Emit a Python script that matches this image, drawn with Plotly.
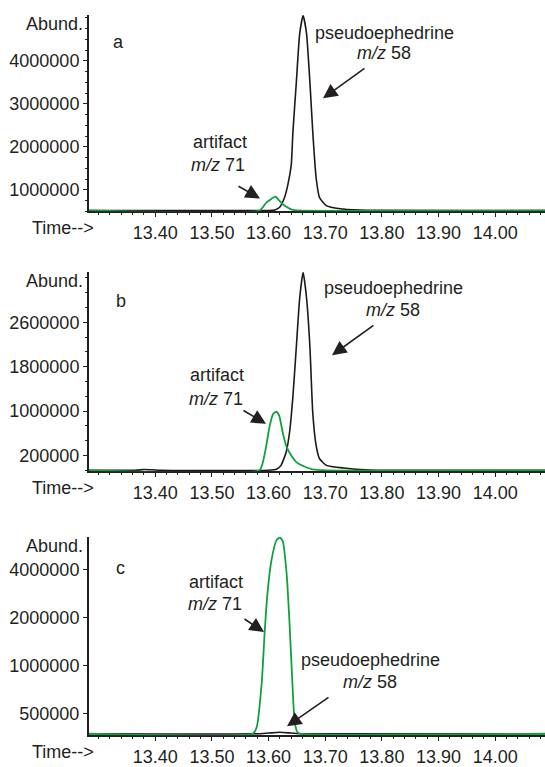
import plotly.graph_objects as go

# ---------------- data ----------------
# Panel a
a_time_black = [13.283, 13.600, 13.611, 13.619, 13.628, 13.634, 13.640, 13.643, 13.649, 13.655, 13.661,
                13.667, 13.673, 13.678, 13.684, 13.690, 13.702, 13.726, 13.761, 13.800, 14.088]
a_abund_black = [519000, 519000, 530000, 588000, 817000, 1115000, 1573000, 2351000, 3496000, 4641000, 5053000,
                 4641000, 3496000, 2351000, 1275000, 817000, 634000, 560000, 530000, 522000, 519000]
a_time_green = [13.283, 13.584, 13.596, 13.612, 13.619, 13.628, 13.641, 13.650, 14.088]
a_abund_green = [519000, 519000, 703000, 840000, 748000, 634000, 542000, 519000, 519000]
a_ticks = [1000000, 2000000, 3000000, 4000000]

# Panel b
b_time_black = [13.283, 13.365, 13.380, 13.395, 13.410, 13.600, 13.614, 13.622, 13.631, 13.637, 13.643, 13.649,
                13.655, 13.661, 13.667, 13.673, 13.678, 13.684, 13.690, 13.702, 13.732, 13.779, 14.088]
b_abund_black = [-67000, -67000, -52000, -58000, -67000, -67000, -49000, 22000, 259000, 614000, 1267000, 2156000,
                 3044000, 3500000, 3044000, 2156000, 970000, 378000, 141000, 22000, -26000, -61000, -67000]
b_time_green = [13.283, 13.584, 13.590, 13.596, 13.602, 13.608, 13.614, 13.619, 13.625, 13.631, 13.640,
                13.649, 13.661, 13.678, 13.702, 14.088]
b_abund_green = [-67000, -67000, 81000, 378000, 733000, 947000, 988000, 911000, 614000, 378000, 198000,
                 81000, 10000, -49000, -67000, -67000]
b_ticks = [200000, 1000000, 1800000, 2600000]

# Panel c (logarithmic abundance scale)
c_time_green = [13.283, 13.572, 13.579, 13.588, 13.593, 13.598, 13.605, 13.614, 13.620, 13.625, 13.632,
                13.637, 13.642, 13.646, 13.651, 13.658, 14.088]
c_abund_green = [375000, 375000, 411000, 789000, 1600000, 2830000, 4570000, 6150000, 6400000, 6060000, 3750000,
                 1850000, 789000, 448000, 383000, 375000, 375000]
c_time_black = [13.283, 13.580, 13.600, 13.620, 13.640, 13.660, 14.088]
c_abund_black = [375000, 375000, 379000, 383000, 379000, 375000, 375000]
c_ticks = [500000, 1000000, 2000000, 4000000]

x_ticks = [13.40, 13.50, 13.60, 13.70, 13.80, 13.90, 14.00]
x_ticktext = ["13.40", "13.50", "13.60", "13.70", "13.80", "13.90", "14.00"]

panel_letters = ["a", "b", "c"]

# ---------------- layout helpers ----------------
W, H = 545, 767
FONT = "Liberation Sans, Arial, Helvetica, sans-serif"
DARK = "#231f20"
BLACK = "#1a1a1a"
GREEN = "#12a03c"


def px(x):
    return x / W


def py(y):
    return 1 - y / H


fig = go.Figure()

panels = [
    dict(xa="x", ya="y", tb=a_time_black, vb=a_abund_black, tg=a_time_green, vg=a_abund_green),
    dict(xa="x2", ya="y2", tb=b_time_black, vb=b_abund_black, tg=b_time_green, vg=b_abund_green),
    dict(xa="x3", ya="y3", tb=c_time_black, vb=c_abund_black, tg=c_time_green, vg=c_abund_green),
]
for p in panels:
    fig.add_trace(go.Scatter(x=p["tb"], y=p["vb"], xaxis=p["xa"], yaxis=p["ya"], mode="lines",
                             line=dict(color=BLACK, width=1.6, shape="spline", smoothing=0.5),
                             showlegend=False, hoverinfo="skip"))
    fig.add_trace(go.Scatter(x=p["tg"], y=p["vg"], xaxis=p["xa"], yaxis=p["ya"], mode="lines",
                             line=dict(color=GREEN, width=1.8, shape="spline", smoothing=0.5),
                             showlegend=False, hoverinfo="skip"))

# vertical extents in pixels (top, bottom)
ext = [(15, 213), (274, 475), (541, 741)]
x_range = [13.283, 14.088]

xaxis_common = dict(range=x_range, domain=[px(89), 1], showline=True, linecolor=DARK, linewidth=2,
                    ticks="outside", ticklen=4, tickwidth=1.2, tickcolor=DARK,
                    tickvals=x_ticks, ticktext=x_ticktext,
                    minor=dict(ticks="outside", ticklen=2, tickwidth=1, tickcolor=DARK, dtick=0.02),
                    showgrid=False, zeroline=False, layer="below traces",
                    tickfont=dict(family=FONT, size=18, color=DARK))
yaxis_common = dict(showline=True, linecolor=DARK, linewidth=2, ticks="outside", ticklen=4, tickwidth=1.2,
                    tickcolor=DARK, showgrid=False, zeroline=False, layer="below traces",
                    tickfont=dict(family=FONT, size=18, color=DARK))

layout = dict(width=W, height=H, autosize=False, margin=dict(l=0, r=0, t=0, b=0),
              paper_bgcolor="white", plot_bgcolor="white", font=dict(family=FONT, size=18, color=DARK))

for i, (top, bot) in enumerate(ext):
    sfx = "" if i == 0 else str(i + 1)
    layout["xaxis" + sfx] = dict(xaxis_common, anchor="y" + sfx)
    dom = [py(bot), py(top)]
    if i == 0:
        layout["yaxis"] = dict(yaxis_common, domain=dom, anchor="x", range=[500000, 5070000],
                               tickvals=a_ticks, ticktext=[str(v) for v in a_ticks],
                               minor=dict(ticks="outside", ticklen=2, tickwidth=1, tickcolor=DARK,
                                          dtick=250000, tick0=0))
    elif i == 1:
        layout["yaxis2"] = dict(yaxis_common, domain=dom, anchor="x2", range=[-85000, 3510000],
                                tickvals=b_ticks, ticktext=[str(v) for v in b_ticks],
                                minor=dict(ticks="outside", ticklen=2, tickwidth=1, tickcolor=DARK,
                                           dtick=800000 / 3, tick0=200000))
    else:
        layout["yaxis3"] = dict(yaxis_common, domain=dom, anchor="x3", type="log", range=[5.565, 6.81],
                                tickvals=c_ticks, ticktext=[str(v) for v in c_ticks])

fig.update_layout(**layout)

ann = []


def text(x, y, s, xanchor="center"):
    ann.append(dict(xref="paper", yref="paper", x=px(x), y=py(y), text=s, showarrow=False,
                    xanchor=xanchor, yanchor="middle", font=dict(family=FONT, size=18, color=DARK)))


def arrow(tail, tip):
    ann.append(dict(xref="paper", yref="paper", x=px(tip[0]), y=py(tip[1]), text="",
                    ax=tail[0] - tip[0], ay=tail[1] - tip[1], showarrow=True,
                    arrowhead=2, arrowsize=1.8, arrowwidth=1.6, arrowcolor=DARK, standoff=0))


# axis titles and panel letters
for (top, bot), letter, lp in zip(ext, panel_letters, [(118, 42), (121, 303), (120, 572)]):
    text(85, top + 9, "Abund.", xanchor="right")
    text(30, bot + 17, "Time-->", xanchor="left")
    text(lp[0], lp[1], letter)

# panel a
text(384, 33, "pseudoephedrine")
text(384, 53, "<i>m/z</i> 58")
arrow((366, 68), (323, 99))
text(220, 143, "artifact")
text(218, 166, "<i>m/z</i> 71")
arrow((237, 187), (260, 200))

# panel b
text(393, 290, "pseudoephedrine")
text(393, 312, "<i>m/z</i> 58")
arrow((375, 327), (332, 358))
text(217, 378, "artifact")
text(216, 402, "<i>m/z</i> 71")
arrow((242, 413), (266, 427))

# panel c
text(216, 587, "artifact")
text(215, 609, "<i>m/z</i> 71")
arrow((243, 623), (264, 637))
text(370, 665, "pseudoephedrine")
text(370, 687, "<i>m/z</i> 58")
arrow((330, 702), (287, 732))

fig.update_layout(annotations=ann)
fig.write_html("out.html")
